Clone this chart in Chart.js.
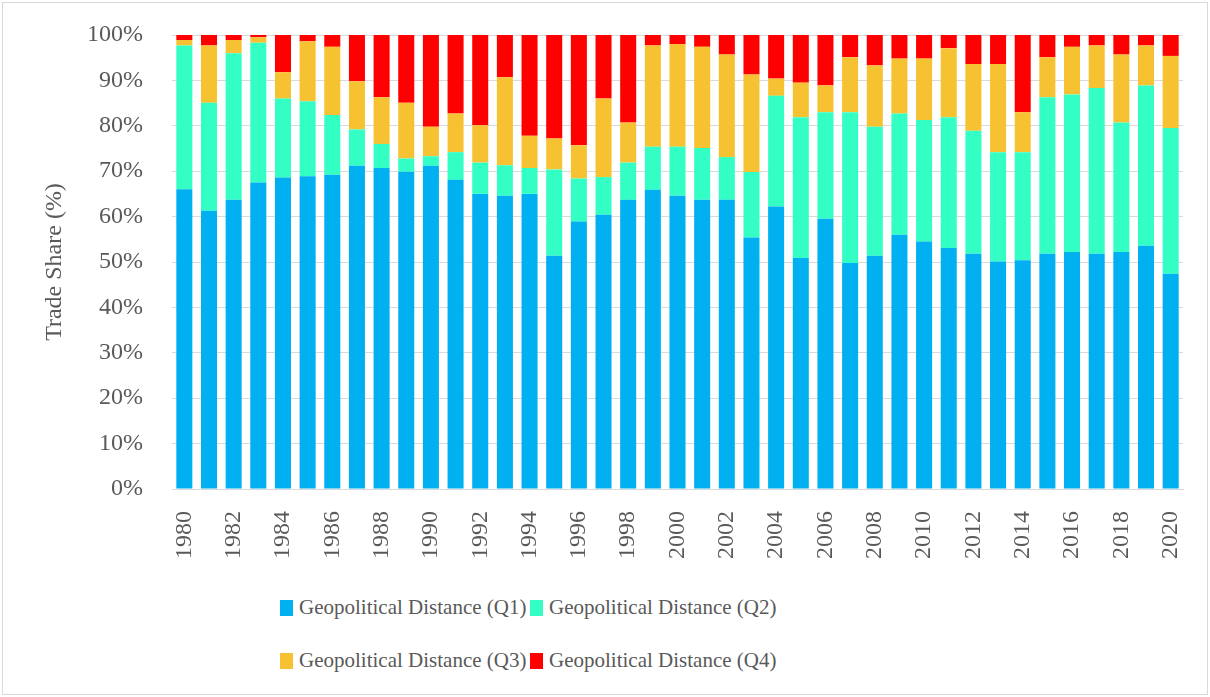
<!DOCTYPE html>
<html>
<head>
<meta charset="utf-8">
<script src="https://cdn.jsdelivr.net/npm/chart.js@4.4.1/dist/chart.umd.min.js"></script>
<style>
  html, body { margin: 0; padding: 0; background: #fff; }
  #frame {
    position: relative; width: 1206px; height: 693px;
    margin: 2px; border: 1px solid #d9d9d9; box-sizing: border-box; overflow: hidden;
  }
  #wrap { position: absolute; left: -3px; top: -3px; width: 1210px; height: 590px; }
  #legend {
    position: absolute; left: 277px; top: 592px; width: 520px;
    font-family: "Liberation Serif", serif; font-size: 21px; color: #595959;
  }
  .item { position: absolute; white-space: nowrap; line-height: 24px; }
  .box { display: inline-block; width: 13px; height: 16px; margin-right: 6px; vertical-align: -2px; }
</style>
</head>
<body>
<div id="frame">
  <div id="wrap"><canvas id="trade_share"></canvas></div>
  <div id="legend"></div>
</div>
<script>
// years 1980-2020
const years = [];
for (let y = 1980; y <= 2020; y++) years.push(String(y));

// shares (%)
const q1 = [66.0,61.3,63.7,67.5,68.6,68.9,69.2,71.2,70.7,69.9,71.2,68.1,65.0,64.6,65.0,51.4,58.9,60.4,63.7,65.9,
            64.6,63.7,63.7,55.4,62.2,50.9,59.5,49.8,51.4,56.0,54.5,53.1,51.8,50.1,50.4,51.8,52.2,51.8,52.2,53.6,47.4];
const q2 = [31.7,23.8,32.3,30.8,17.4,16.5,13.2,8.0,5.3,2.9,2.1,6.1,6.9,6.7,5.7,19.0,9.5,8.3,8.2,9.5,
            10.8,11.4,9.4,14.4,24.4,31.0,23.5,33.2,28.4,26.7,26.8,28.8,27.1,24.1,23.8,34.5,34.7,36.5,28.5,35.3,32.1];
const q3 = [1.2,12.6,2.9,1.2,5.8,13.2,15.0,10.6,10.3,12.3,6.5,8.5,8.2,19.4,7.1,6.8,7.3,17.3,8.8,22.3,
            22.6,22.3,22.6,21.5,3.8,7.6,5.9,12.1,13.5,12.1,13.5,15.2,14.7,19.4,8.8,8.8,10.5,9.4,15.0,8.8,15.9];
const q4 = [1.1,2.3,1.1,0.5,8.2,1.4,2.6,10.2,13.7,14.9,20.2,17.3,19.9,9.3,22.2,22.8,24.3,14.0,19.3,2.3,
            2.0,2.6,4.3,8.7,9.6,10.5,11.1,4.9,6.7,5.2,5.2,2.9,6.4,6.4,17.0,4.9,2.6,2.3,4.3,2.3,4.6];

const seriesNames = ["Geopolitical Distance (Q1)", "Geopolitical Distance (Q2)",
                     "Geopolitical Distance (Q3)", "Geopolitical Distance (Q4)"];
const seriesColors = ["#00b0f0", "#33ffc4", "#f7c232", "#ff0000"];
const allSeries = [q1, q2, q3, q4];

const textColor = "#595959";
const serif = "'Liberation Serif', serif";

const ctx = document.querySelector("#trade_share").getContext("2d");
const chart = new Chart(ctx, {
  type: "bar",
  data: {
    labels: years,
    datasets: allSeries.map((d, i) => ({
      label: seriesNames[i],
      data: d,
      backgroundColor: seriesColors[i],
      borderWidth: 0,
      categoryPercentage: 1,
      barPercentage: 0.65
    }))
  },
  options: {
    responsive: true,
    maintainAspectRatio: false,
    animation: false,
    layout: { padding: { left: 40, right: 27, top: 35, bottom: 0 } },
    plugins: { legend: { display: false }, tooltip: { enabled: false } },
    scales: {
      x: {
        stacked: true,
        grid: { display: false, drawTicks: false },
        border: { color: "#d9d9d9" },
        ticks: {
          color: textColor, font: { family: serif, size: 24 },
          minRotation: 90, maxRotation: 90, padding: 22, autoSkip: false,
          callback: function (v, i) { return i % 2 === 0 ? this.getLabelForValue(v) : ""; }
        },
        afterFit: s => { s.height = 101; s.paddingLeft = 0; s.paddingRight = 0; }
      },
      y: {
        stacked: true,
        min: 0, max: 100,
        grid: { color: "#d9d9d9", drawTicks: false },
        border: { display: false },
        ticks: {
          stepSize: 10, padding: 29,
          color: textColor, font: { family: serif, size: 24 },
          callback: v => v + "%"
        },
        title: {
          display: true, text: "Trade Share (%)",
          color: textColor, font: { family: serif, size: 24 }, padding: { top: 0, bottom: 0 }
        },
        afterFit: s => { s.width = 132; s.paddingTop = 0; s.paddingBottom = 0; }
      }
    }
  }
});

// legend, two rows of two like the original
const legend = document.querySelector("#legend");
const spots = [[0, 0], [250, 0], [0, 53], [250, 53]];
seriesNames.forEach((name, i) => {
  const it = document.createElement("div");
  it.className = "item";
  it.style.left = spots[i][0] + "px";
  it.style.top = spots[i][1] + "px";
  it.innerHTML = '<span class="box" style="background:' + seriesColors[i] + '"></span>' + name;
  legend.appendChild(it);
});
</script>
</body>
</html>
